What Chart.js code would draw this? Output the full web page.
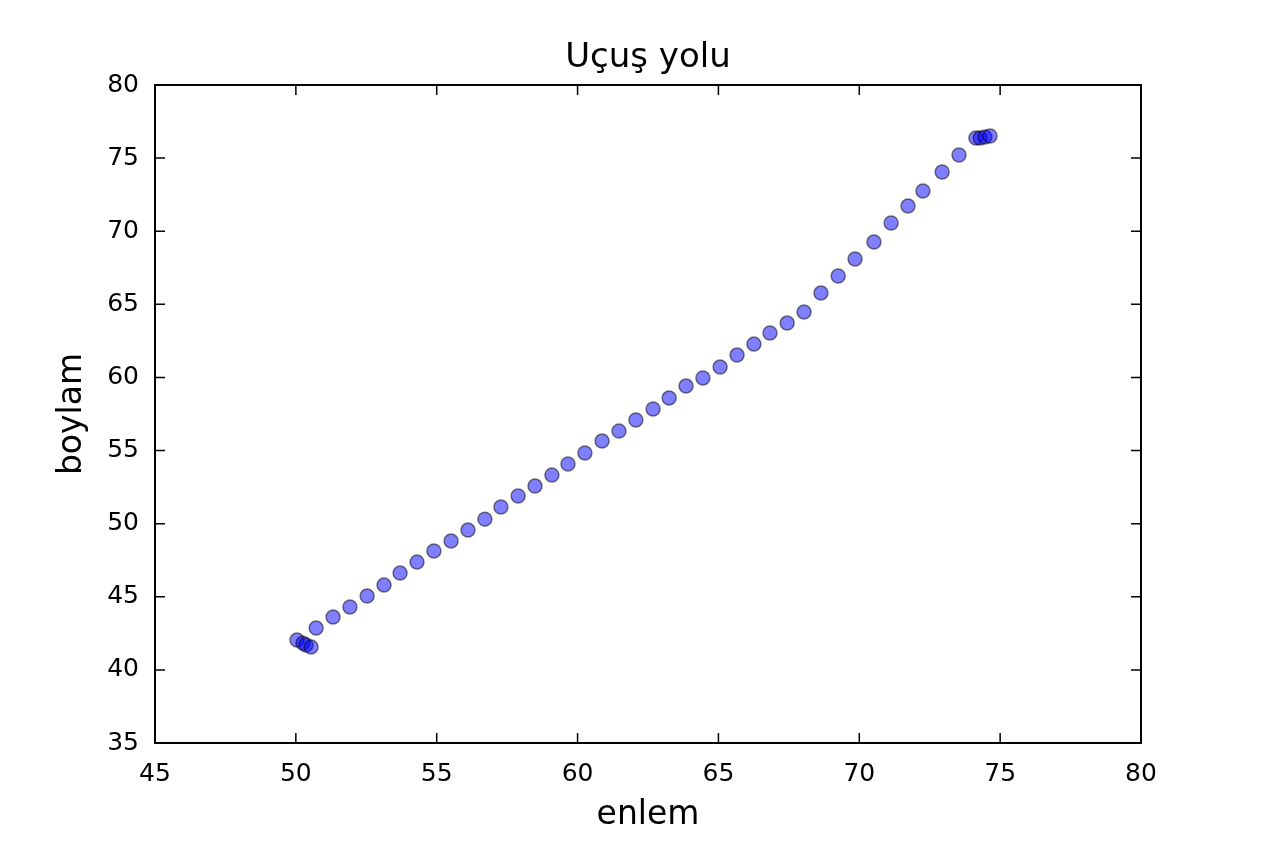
<!DOCTYPE html>
<html lang="tr">
<head>
  <meta charset="UTF-8">
  <title>Uçuş yolu</title>
  <script src="https://cdn.jsdelivr.net/npm/chart.js"></script>
  <style>
    body { margin: 0; background: #fff; }
  </style>
</head>
<body>
  <canvas id="flightChart" width="1264" height="848"></canvas>
  <script>
    // enlem (x) ve boylam (y) değerleri
    const enlem = [50.04, 50.25, 50.36, 50.54, 50.72, 51.32, 51.92, 52.53, 53.13, 53.70, 54.30, 54.90,
      55.51, 56.11, 56.71, 57.28, 57.89, 58.49, 59.09, 59.66, 60.26, 60.87, 61.47, 62.07, 62.68, 63.25,
      63.85, 64.45, 65.06, 65.66, 66.26, 66.83, 67.44, 68.04, 68.64, 69.25, 69.85, 70.52, 71.13, 71.73,
      72.26, 72.94, 73.54, 74.14, 74.29, 74.46, 74.64];
    const boylam = [42.04, 41.83, 41.70, 41.56, 42.86, 43.61, 44.30, 45.05, 45.80, 46.62, 47.37, 48.13,
      48.81, 49.56, 50.31, 51.14, 51.89, 52.57, 53.32, 54.08, 54.83, 55.65, 56.33, 57.09, 57.84, 58.59,
      59.41, 59.96, 60.71, 61.53, 62.28, 63.04, 63.72, 64.47, 65.77, 66.94, 68.10, 69.26, 70.56, 71.72,
      72.75, 74.05, 75.21, 76.37, 76.37, 76.44, 76.51];
    const xTicks = [45, 50, 55, 60, 65, 70, 75, 80];
    const yTicks = [35, 40, 45, 50, 55, 60, 65, 70, 75, 80];

    const points = enlem.map((x, i) => ({ x: x, y: boylam[i] }));

    // matplotlib tarzı çerçeve, içe dönük tikler ve başlıklar
    const frame = {
      id: 'frame',
      afterDraw(chart) {
        const c = chart.ctx, a = chart.chartArea;
        const xs = chart.scales.x, ys = chart.scales.y;
        c.save();
        c.strokeStyle = '#000';
        c.lineWidth = 2;
        c.strokeRect(a.left, a.top, a.right - a.left, a.bottom - a.top);
        c.lineWidth = 1.5;
        c.beginPath();
        xTicks.forEach(v => {
          const p = xs.getPixelForValue(v);
          c.moveTo(p, a.bottom); c.lineTo(p, a.bottom - 10);
          c.moveTo(p, a.top); c.lineTo(p, a.top + 10);
        });
        yTicks.forEach(v => {
          const p = ys.getPixelForValue(v);
          c.moveTo(a.left, p); c.lineTo(a.left + 10, p);
          c.moveTo(a.right, p); c.lineTo(a.right - 10, p);
        });
        c.stroke();
        c.fillStyle = '#000';
        c.textAlign = 'center';
        c.textBaseline = 'middle';
        c.font = '34px "DejaVu Sans"';
        c.fillText('Uçuş yolu', (a.left + a.right) / 2, 58);
        c.font = '33px "DejaVu Sans"';
        c.fillText('enlem', (a.left + a.right) / 2, 815);
        c.translate(72, (a.top + a.bottom) / 2);
        c.rotate(-Math.PI / 2);
        c.fillText('boylam', 0, 0);
        c.restore();
      }
    };

    new Chart(document.getElementById('flightChart'), {
      type: 'scatter',
      data: {
        datasets: [{
          data: points,
          backgroundColor: 'rgba(0,0,255,0.5)',
          borderColor: 'rgba(0,0,0,0.5)',
          borderWidth: 1.5,
          pointRadius: 7,
          pointHoverRadius: 7
        }]
      },
      options: {
        responsive: false,
        animation: false,
        layout: { padding: { top: 85, right: 123, left: 0, bottom: 0 } },
        plugins: { legend: { display: false }, tooltip: { enabled: false } },
        scales: {
          x: {
            min: 45, max: 80,
            afterFit: s => { s.height = 105; },
            afterBuildTicks: s => { s.ticks = xTicks.map(v => ({ value: v })); },
            grid: { display: false },
            border: { display: false },
            ticks: { color: '#000', font: { size: 25, family: 'DejaVu Sans' }, padding: 8, maxRotation: 0 }
          },
          y: {
            min: 35, max: 80,
            afterFit: s => { s.width = 155; },
            afterBuildTicks: s => { s.ticks = yTicks.map(v => ({ value: v })); },
            grid: { display: false },
            border: { display: false },
            ticks: { color: '#000', font: { size: 25, family: 'DejaVu Sans' }, padding: 8 }
          }
        }
      },
      plugins: [frame]
    });
  </script>
</body>
</html>
